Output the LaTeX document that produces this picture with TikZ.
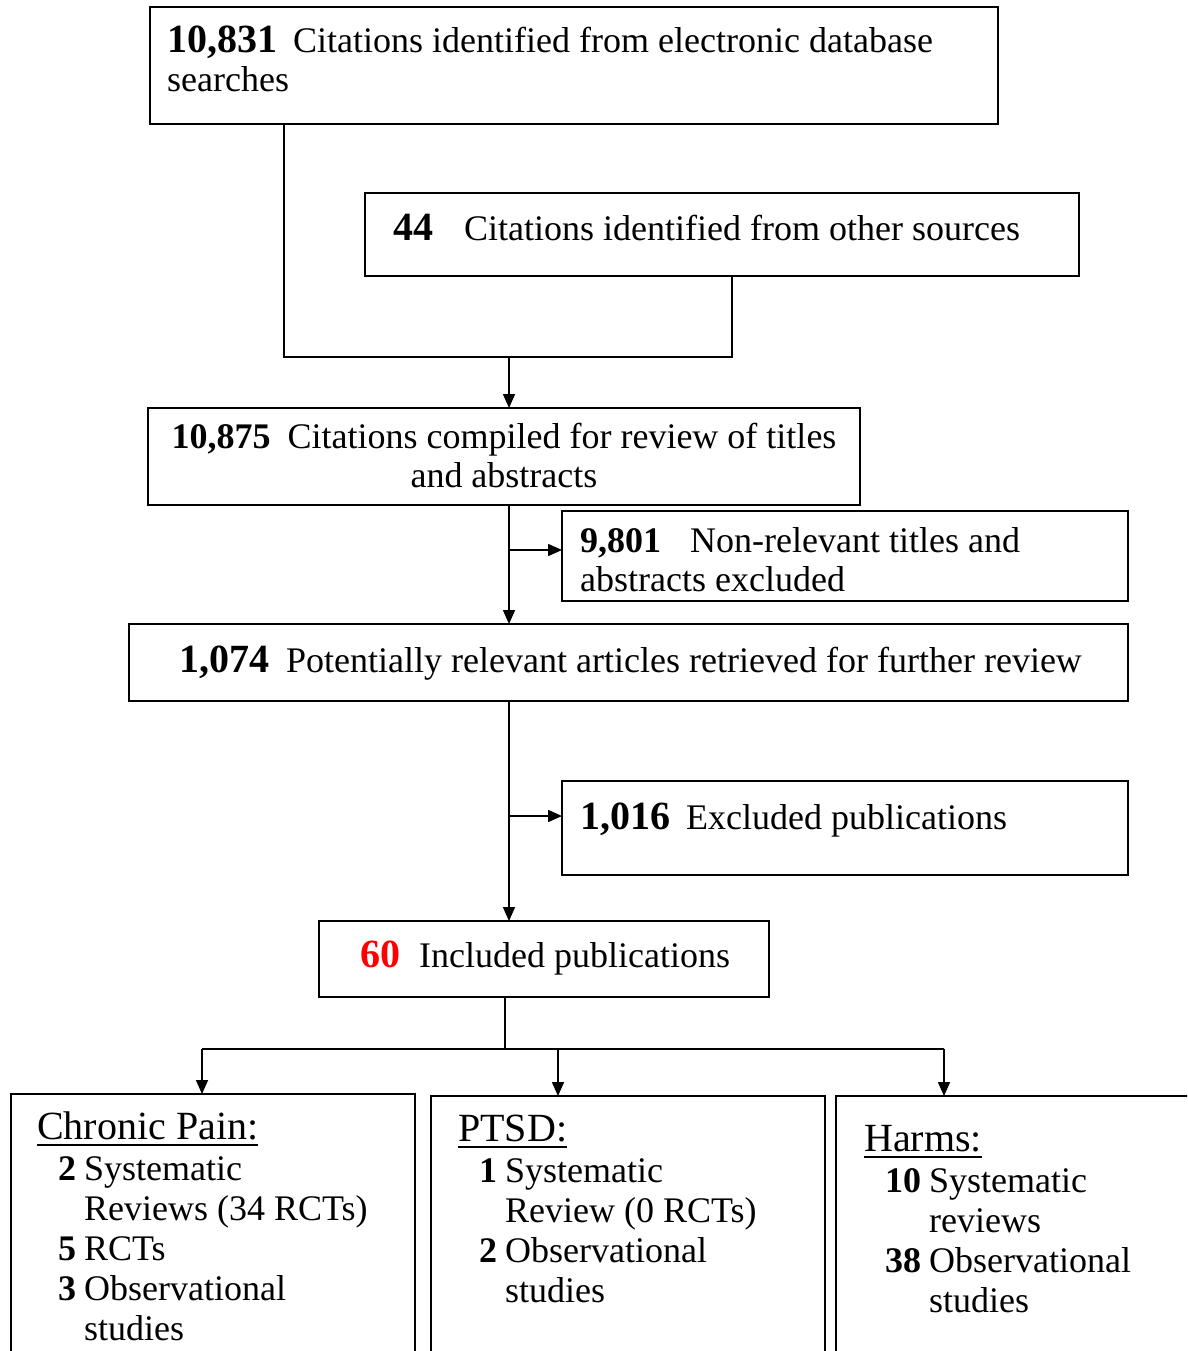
\documentclass[tikz,border=0pt]{standalone}
\usepackage{fontspec}
\setmainfont{Liberation Serif}
\usetikzlibrary{arrows.meta,calc}
\definecolor{numred}{RGB}{255,0,0}
\newcommand\bnum[1]{{\fontsize{40}{40}\selectfont\bfseries #1}}
\newcommand\myul[1]{\setbox0\hbox{#1}\rlap{\copy0}\rule[-7pt]{\wd0}{1.8pt}}
\begin{document}
\begin{tikzpicture}[x=1pt,y=-1pt,
  box/.style={draw,line width=1.6pt,rectangle,inner sep=0pt,outer sep=0pt,anchor=north west},
  txt/.style={inner sep=0pt,anchor=base west,align=left,font=\fontsize{36}{39}\selectfont},
  ctxt/.style={inner sep=0pt,anchor=base,align=center,font=\fontsize{36}{39}\selectfont},
  head/.style={inner sep=0pt,anchor=base west,font=\fontsize{40}{40}\selectfont},
  list/.style={inner sep=0pt,anchor=base west,font=\fontsize{36}{40}\selectfont},
  conn/.style={line width=1.6pt},
  arr/.style={conn,-{Triangle[length=14pt,width=12pt]}},
]
\useasboundingbox (0,0) rectangle (1187,1351);
\clip (0,0) rectangle (1187,1351);

% boxes
\node[box,minimum width=848pt,minimum height=117pt] (b1) at (150,7) {};
\node[box,minimum width=714pt,minimum height=83pt] (b2) at (365,193) {};
\node[box,minimum width=712pt,minimum height=97pt] (b3) at (148,408) {};
\node[box,minimum width=566pt,minimum height=90pt] (b5) at (562,511) {};
\node[box,minimum width=999pt,minimum height=77pt] (b4) at (129,624) {};
\node[box,minimum width=566pt,minimum height=94pt] (b7) at (562,781) {};
\node[box,minimum width=450pt,minimum height=76pt] (b6) at (319,921) {};
\node[box,minimum width=404pt,minimum height=320pt] (b8) at (11,1094) {};
\node[box,minimum width=394pt,minimum height=320pt] (b9) at (431,1096) {};
\node[box,minimum width=420pt,minimum height=320pt] (b10) at (836,1096) {};

% texts (multi-line nodes: base = last line)
\node[txt] (t1) at (167,92) {\bnum{10,831}\hspace{16pt}Citations identified from electronic database\\searches};
\node[txt] (t2) at (393,240) {\bnum{44}\hspace{31pt}Citations identified from other sources};
\node[ctxt] (t3) at (504,487) {\textbf{10,875}\hspace{17pt}Citations compiled for review of titles\\and abstracts};
\node[txt] (t5) at (580,591) {\textbf{9,801}\hspace{29pt}Non-relevant titles and\\abstracts excluded};
\node[txt] (t4) at (179,672) {\bnum{1,074}\hspace{17pt}Potentially relevant articles retrieved for further review};
\node[txt] (t7) at (580,829) {\bnum{1,016}\hspace{16pt}Excluded publications};
\node[txt] (t6) at (360,967) {\textcolor{numred}{\bnum{60}}\hspace{19pt}Included publications};

\node[head] (h8) at (37,1139) {\myul{Chronic Pain:}};
\node[list] (l8) at (58,1180) {\begin{tabular}[t]{@{}r@{\hspace{8pt}}l@{}}\textbf{2}&Systematic\\&Reviews (34 RCTs)\\\textbf{5}&RCTs\\\textbf{3}&Observational\\&studies\end{tabular}};
\node[head] (h9) at (458,1141) {\myul{PTSD:}};
\node[list] (l9) at (479,1182) {\begin{tabular}[t]{@{}r@{\hspace{8pt}}l@{}}\textbf{1}&Systematic\\&Review (0 RCTs)\\\textbf{2}&Observational\\&studies\end{tabular}};
\node[head] (h10) at (864,1151) {\myul{Harms:}};
\node[list] (l10) at (885,1192) {\begin{tabular}[t]{@{}r@{\hspace{8pt}}l@{}}\textbf{10}&Systematic\\&reviews\\\textbf{38}&Observational\\&studies\end{tabular}};

% connectors
\coordinate (j1) at (509,357);
\draw[conn] ($(b1.south west)+(134,0)$) |- (j1) -| ($(b2.south west)+(367,0)$);
\draw[arr] (j1) -- (j1 |- b3.north);
\draw[arr] (b3.south -| j1) -- (b4.north -| j1);
\coordinate (j2) at (509,550);
\draw[arr] (j2) -- (j2 -| b5.west);
\draw[arr] (b4.south -| j1) -- (b6.north -| j1);
\coordinate (j3) at (509,816);
\draw[arr] (j3) -- (j3 -| b7.west);
\coordinate (j4) at (505,1049);
\draw[conn] (b6.south -| j4) -- (j4);
\coordinate (j5) at (202,1049);
\coordinate (j6) at (558,1049);
\coordinate (j7) at (944,1049);
\draw[conn] (j5) -- (j7);
\draw[arr] (j5) -- (j5 |- b8.north);
\draw[arr] (j6) -- (j6 |- b9.north);
\draw[arr] (j7) -- (j7 |- b10.north);
\end{tikzpicture}
\end{document}
